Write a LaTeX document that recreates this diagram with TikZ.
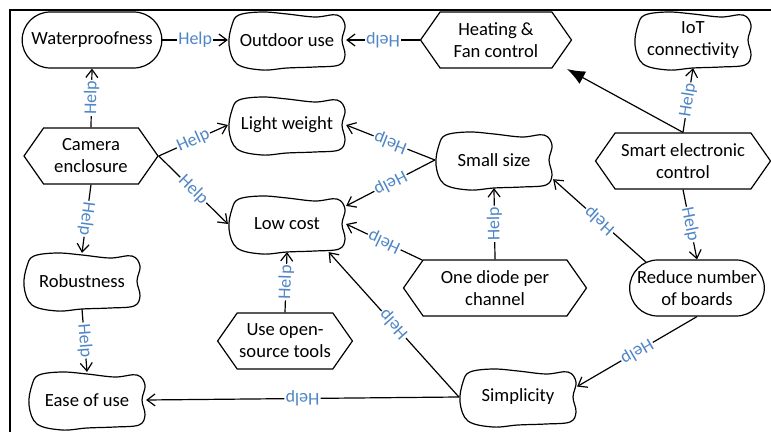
\documentclass[tikz,border=0pt]{standalone}
\usepackage{fontspec}
\setmainfont{Carlito}
\usetikzlibrary{arrows.meta,shapes.symbols,shapes.misc}

\definecolor{helpblue}{RGB}{79,134,198}

\tikzset{
  hexbox/.style={signal, signal to=east and west, signal pointer angle=110,
    draw, align=center, minimum height=28pt, inner sep=1pt},
  pillbox/.style={rounded rectangle, draw, align=center, minimum height=28pt},
  blobbox/.style={rectangle, align=center, minimum width=58.5pt,
    minimum height=27.5pt, inner sep=0pt},
  helplabel/.style={midway, sloped, allow upside down, fill=white,
    inner sep=0.6pt, text=helpblue, font=\fontsize{9}{10}\selectfont},
}

\begin{document}
\begin{tikzpicture}[x=0.5pt,y=-0.5pt,line width=0.6pt,
  >={Straight Barb[length=4pt,width=6pt]},
  font=\fontsize{9.3}{11}\selectfont]
\useasboundingbox (0,0) rectangle (771,432);
\draw (10,432) -- (10,10) -- (771,10);

 % top row
 \node (node_water) at (92,40) [pillbox,minimum width=76.5pt] {Waterproofness};
 \node (node_outdoor) at (287,40) [blobbox] {Outdoor use};
 \node (node_heating) at (496,40) [hexbox,minimum width=75.5pt] {Heating \&\\Fan control};
 \node (node_iot) at (693,40) [blobbox] {IoT\\connectivity};

 % middle rows
 \node (node_camera) at (91,156) [hexbox,minimum width=67pt] {Camera\\enclosure};
 \node (node_light) at (287,125) [blobbox] {Light weight};
 \node (node_small) at (494,160) [blobbox] {Small size};
 \node (node_smart) at (683,161) [hexbox,minimum width=87.5pt] {Smart electronic\\control};
 \node (node_low) at (287,224) [blobbox] {Low cost};
 \node (node_robust) at (82,281) [blobbox] {Robustness};
 \node (node_diode) at (495,288) [hexbox,minimum width=91.5pt] {One diode per\\channel};
 \node (node_reduce) at (697,288) [pillbox,minimum width=74pt] {Reduce number\\of boards};

 % bottom rows
 \node (node_open) at (285,341) [hexbox,minimum width=62pt] {Use open-\\source tools};
 \node (node_ease) at (87,400) [blobbox] {Ease of use};
 \node (node_simple) at (518,397) [blobbox] {Simplicity};

 \coordinate (heat_tip) at (567,69);

 % wavy outlines
 \foreach \n in {outdoor,iot,light,small,low,robust,ease,simple}
   \draw [shift={(node_\n.center)}] plot [smooth cycle,tension=0.6] coordinates
     {(-48,-25) (-25,-28) (0,-26) (28,-23) (50,-25) (58,-15) (55,0) (58,15)
      (52,25) (28,27) (0,28) (-25,30) (-50,24) (-58,5) (-55,-15)};

  \draw [black,->] (node_water.east) -- node[helplabel] {Help} (node_outdoor.west);
  \draw [black,->] (node_heating.west) -- node[helplabel] {Help} (node_outdoor.east);
  \draw [black,->] (node_camera.north) -- node[helplabel] {Help} (node_water.south);
  \draw [black,->] (node_camera.east) -- node[helplabel] {Help} (node_light.west);
  \draw [black,->] (node_camera.east) -- node[helplabel] {Help} (node_low.west);
  \draw [black,->] (node_camera.south) -- node[helplabel] {Help} (node_robust.north);
  \draw [black,->] (node_robust.south) -- node[helplabel] {Help} (node_ease.north);
  \draw [black,->] (node_small.west) -- node[helplabel] {Help} (node_light.east);
  \draw [black,->] (node_small.west) -- node[helplabel] {Help} (node_low.17);
  \draw [black,->] (node_diode.north) -- node[helplabel] {Help} (node_small.south);
  \draw [black,->] (node_diode.159) -- node[helplabel] {Help} (node_low.east);
  \draw [black,->] (node_open.north) -- node[helplabel] {Help} (node_low.south);
  \draw [black,->] (node_simple.west) -- node[helplabel] {Help} (node_ease.east);
  \draw [black,->] (node_simple.west) -- node[helplabel] {Help} (node_low.-34);
  \draw [black,->] (node_reduce.south) -- node[helplabel] {Help} (node_simple.10);
  \draw [black,->] (node_reduce.153) -- node[helplabel] {Help} (node_small.-18);
  \draw [black,->] (node_smart.south) -- node[helplabel] {Help} (node_reduce.north);
  \draw [black,->] (node_smart.north) -- node[helplabel] {Help} (node_iot.south);
  \draw [black,-{Latex[length=9pt,width=7pt]}] (node_smart.north) -- (heat_tip);
\end{tikzpicture}
\end{document}
